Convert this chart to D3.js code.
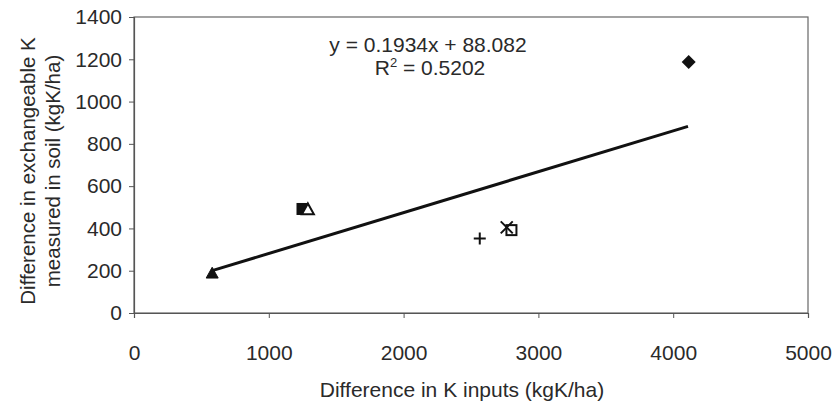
<!DOCTYPE html>
<html><head><meta charset="utf-8">
<script src="https://cdn.jsdelivr.net/npm/d3@7"></script>
<style>body{margin:0;background:#fff}text{font-family:"Liberation Sans",Arial,sans-serif}</style>
</head><body><svg id="c" width="838" height="409"></svg>
<script>
const xTicks = [0,1000,2000,3000,4000,5000];
const yTicks = [0,200,400,600,800,1000,1200,1400];
const pointX = [580, 1250, 1290, 2565, 2765, 2800, 4115];
const pointY = [188, 492, 490, 352, 405, 392, 1187];
const pointShape = ["triangleFilled","squareFilled","triangleOpen","plus","cross","squareOpen","diamondFilled"];
const slope = 0.1934, intercept = 88.082;
const trendRange = [580, 4110];
const eqText = "y = 0.1934x + 88.082";
const r2Text = "0.5202";

const svg = d3.select("#c");
const L=134,R=808,T=17,B=313;
const x = d3.scaleLinear().domain([0,5000]).range([L,R]);
const y = d3.scaleLinear().domain([0,1400]).range([B,T]);
const col="#2a2a2a";
const FF="'Liberation Sans',Arial,sans-serif";

svg.append("rect").attr("x",L).attr("y",T).attr("width",R-L).attr("height",B-T)
  .attr("fill","none").attr("stroke","#666").attr("stroke-width",1.2);

const ya = svg.append("g").attr("transform",`translate(${L},0)`)
  .call(d3.axisLeft(y).tickValues(yTicks).tickSize(5).tickPadding(7).tickFormat(d3.format("d")));
const xa = svg.append("g").attr("transform",`translate(0,${B})`)
  .call(d3.axisBottom(x).tickValues(xTicks).tickSize(5).tickPadding(27).tickFormat(d3.format("d")));
[ya,xa].forEach(a=>{
  a.select(".domain").attr("stroke","#555").attr("stroke-width",1.2);
  a.selectAll("line").attr("stroke","#555");
  a.selectAll("text").attr("fill",col).style("font-size","21px").style("font-family",FF);
});

// trendline
svg.append("line")
  .attr("x1",x(trendRange[0])).attr("y1",y(slope*trendRange[0]+intercept))
  .attr("x2",x(trendRange[1])).attr("y2",y(slope*trendRange[1]+intercept))
  .attr("stroke","#111").attr("stroke-width",3);

// markers
const g = svg.append("g");
pointX.forEach((px,i)=>{
  const cx=x(px), cy=y(pointY[i]), s=pointShape[i];
  if(s==="triangleFilled"||s==="triangleOpen"){
    const h=6;
    g.append("path").attr("d",`M${cx},${cy-h}L${cx+h},${cy+h*0.8}L${cx-h},${cy+h*0.8}Z`)
      .attr("fill",s==="triangleFilled"?"#111":"#fff").attr("stroke","#111").attr("stroke-width",s==="triangleFilled"?1:2);
  } else if(s==="squareFilled"||s==="squareOpen"){
    const h=5;
    g.append("rect").attr("x",cx-h).attr("y",cy-h).attr("width",2*h).attr("height",2*h)
      .attr("fill",s==="squareFilled"?"#111":"none").attr("stroke","#111").attr("stroke-width",2);
  } else if(s==="plus"){
    const h=6;
    g.append("path").attr("d",`M${cx-h},${cy}H${cx+h}M${cx},${cy-h}V${cy+h}`).attr("stroke","#111").attr("stroke-width",2);
  } else if(s==="cross"){
    const h=6;
    g.append("path").attr("d",`M${cx-h},${cy-h}L${cx+h},${cy+h}M${cx+h},${cy-h}L${cx-h},${cy+h}`).attr("stroke","#111").attr("stroke-width",2);
  } else if(s==="diamondFilled"){
    const h=7;
    g.append("path").attr("d",`M${cx},${cy-h}L${cx+h},${cy}L${cx},${cy+h}L${cx-h},${cy}Z`).attr("fill","#111");
  }
});

// equation
svg.append("text").attr("x",428).attr("y",52).attr("text-anchor","middle").attr("fill",col)
  .style("font-size","21px").text(eqText);
const r2 = svg.append("text").attr("x",430).attr("y",75).attr("text-anchor","middle").attr("fill",col).style("font-size","21px");
r2.append("tspan").text("R");
r2.append("tspan").attr("dy",-8).style("font-size","13px").text("2");
r2.append("tspan").attr("dy",8).text(" = "+r2Text);

// axis titles
svg.append("text").attr("x",462).attr("y",397).attr("text-anchor","middle").attr("fill",col)
  .style("font-size","21px").text("Difference in K inputs (kgK/ha)");
const yt = svg.append("text").attr("transform","translate(35,171) rotate(-90)").attr("text-anchor","middle").attr("fill",col).style("font-size","20.5px");
yt.append("tspan").attr("x",0).attr("y",0).text("Difference in exchangeable K");
yt.append("tspan").attr("x",0).attr("y",25).text("measured in soil (kgK/ha)");
</script></body></html>
